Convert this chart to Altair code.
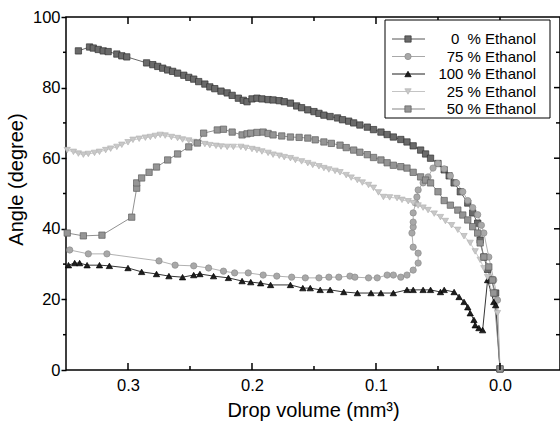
import altair as alt
import pandas as pd

# ---------------- data ----------------
series_keys = ["0%", "75%", "100%", "25%", "50%"]
legend_labels = ["0\u00a0\u00a0% Ethanol", "75 % Ethanol", "100 % Ethanol", "25 % Ethanol", "50 % Ethanol"]
line_colors = ["#555555", "#a8a8a8", "#1e1e1e", "#c4c4c4", "#858585"]
fill_colors = ["#6a6a6a", "#a8a8a8", "#1e1e1e", "#c8c8c8", "#959595"]
stroke_colors = ["#333333", "#8c8c8c", "#000000", "#b4b4b4", "#5e5e5e"]
shapes = ["square", "circle", "triangle-up", "triangle-down", "square"]

vol_0 = [0.340, 0.331, 0.328, 0.324, 0.320, 0.316, 0.309, 0.305, 0.301, 0.285, 0.280, 0.276,
         0.272, 0.268, 0.264, 0.260, 0.255, 0.251, 0.247, 0.243, 0.238, 0.234, 0.230, 0.225,
         0.220, 0.216, 0.211, 0.207, 0.204, 0.200, 0.196, 0.192, 0.187, 0.183, 0.178, 0.174,
         0.169, 0.164, 0.160, 0.155, 0.150, 0.146, 0.142, 0.137, 0.131, 0.127, 0.122, 0.118,
         0.113, 0.107, 0.102, 0.096, 0.091, 0.086, 0.080, 0.075, 0.070, 0.064, 0.060, 0.056,
         0.050, 0.045, 0.041, 0.037, 0.032, 0.026, 0.022, 0.018, 0.016, 0.013, 0.010, 0.007,
         0.0035, 0.0]
ang_0 = [90.4, 91.5, 91.2, 90.8, 90.4, 90.2, 89.5, 89.0, 88.7, 87.0, 86.5, 86.0,
         85.5, 85.0, 84.6, 84.1, 83.5, 82.9, 82.4, 81.7, 81.0, 80.2, 79.7, 79.0,
         78.5, 77.8, 77.0, 76.4, 76.0, 76.8, 77.0, 76.8, 76.6, 76.5, 76.3, 76.0,
         75.6, 74.8, 74.3, 73.7, 73.2, 72.7, 72.2, 71.8, 71.4, 70.9, 70.5, 70.0,
         69.4, 68.8, 68.1, 67.4, 66.7, 66.0, 65.3, 64.6, 63.5, 62.3, 61.2, 60.0,
         58.5, 56.7, 55.0, 53.0, 50.5, 47.3, 44.5, 41.6, 36.8, 32.0, 28.5, 25.5,
         21.8, 0.3]

vol_75 = [0.347, 0.332, 0.317, 0.275, 0.262, 0.247, 0.235, 0.223, 0.214, 0.203, 0.191, 0.180,
          0.168, 0.157, 0.146, 0.138, 0.130, 0.121, 0.117, 0.106, 0.099, 0.091, 0.086, 0.080,
          0.075, 0.070, 0.066, 0.066, 0.070, 0.071, 0.070, 0.070, 0.070, 0.068, 0.067, 0.066,
          0.062, 0.058, 0.054, 0.050, 0.045, 0.040, 0.035, 0.030, 0.026, 0.022, 0.018, 0.015,
          0.013, 0.009, 0.005, 0.002, 0.0]
ang_75 = [34.0, 32.9, 32.9, 30.9, 29.7, 29.5, 28.9, 28.0, 27.5, 27.5, 26.9, 26.6,
          26.3, 26.1, 26.1, 26.3, 26.3, 26.6, 26.3, 26.1, 26.1, 26.9, 26.9, 26.3,
          26.9, 28.3, 30.3, 33.1, 34.8, 38.8, 40.5, 41.9, 44.5, 47.3, 49.0, 51.0,
          53.0, 54.7, 57.2, 58.5, 57.0, 55.0, 53.0, 50.5, 48.0, 46.0, 44.0, 41.0,
          38.8, 32.0, 25.5, 19.8, 0.3]

vol_100 = [0.348, 0.343, 0.339, 0.333, 0.323, 0.315, 0.300, 0.289, 0.277, 0.267, 0.256, 0.247,
           0.242, 0.231, 0.219, 0.208, 0.201, 0.193, 0.185, 0.169, 0.159, 0.153, 0.145, 0.137,
           0.126, 0.115, 0.104, 0.096, 0.086, 0.075, 0.070, 0.062, 0.056, 0.048, 0.045, 0.037,
           0.033, 0.029, 0.026, 0.024, 0.021, 0.020, 0.017, 0.014, 0.010, 0.005, 0.0035, 0.0]
ang_100 = [29.7, 30.3, 30.3, 29.7, 29.7, 29.5, 28.9, 27.8, 27.2, 26.6, 26.3, 26.9,
           27.2, 26.6, 26.1, 25.2, 24.9, 24.6, 24.1, 24.1, 23.2, 23.2, 22.7, 22.7,
           22.1, 21.8, 21.8, 21.8, 21.8, 22.7, 22.7, 22.7, 22.7, 22.1, 22.7, 22.1,
           20.7, 19.3, 17.8, 16.1, 14.2, 12.7, 11.9, 11.3, 25.5, 19.3, 18.4, 0.3]

vol_25 = [0.349, 0.344, 0.340, 0.336, 0.332, 0.327, 0.323, 0.318, 0.314, 0.309, 0.305, 0.300,
          0.296, 0.291, 0.286, 0.282, 0.278, 0.274, 0.270, 0.265, 0.260, 0.256, 0.251, 0.247,
          0.243, 0.238, 0.234, 0.229, 0.225, 0.220, 0.215, 0.209, 0.205, 0.200, 0.196, 0.192,
          0.187, 0.183, 0.178, 0.174, 0.169, 0.165, 0.160, 0.155, 0.151, 0.146, 0.142, 0.138,
          0.133, 0.129, 0.124, 0.120, 0.115, 0.111, 0.106, 0.102, 0.098, 0.094, 0.089, 0.083,
          0.079, 0.074, 0.070, 0.066, 0.062, 0.058, 0.053, 0.048, 0.044, 0.039, 0.034, 0.029,
          0.024, 0.020, 0.016, 0.013, 0.010, 0.006, 0.002, 0.0]
ang_25 = [62.3, 61.8, 61.3, 61.0, 61.2, 61.5, 61.8, 62.3, 62.7, 63.2, 63.8, 64.5,
          65.2, 65.5, 65.8, 66.0, 66.3, 66.6, 66.4, 66.0, 65.7, 65.3, 65.0, 64.6,
          64.3, 64.0, 63.7, 63.5, 63.3, 63.2, 63.2, 63.2, 62.9, 62.6, 62.3, 61.9,
          61.5, 61.0, 60.7, 60.3, 60.0, 59.5, 59.1, 58.6, 58.1, 57.7, 57.2, 56.8,
          56.4, 56.0, 55.2, 54.5, 53.8, 53.1, 52.4, 51.6, 50.3, 49.0, 48.9, 48.7,
          48.2, 47.8, 47.3, 46.6, 46.0, 45.3, 44.3, 43.3, 42.2, 41.0, 39.7, 37.9,
          36.0, 33.6, 31.2, 28.8, 26.3, 21.8, 16.1, 0.3]

vol_50 = [0.349, 0.336, 0.321, 0.297, 0.293, 0.293, 0.289, 0.283, 0.277, 0.268, 0.260, 0.251,
          0.244, 0.239, 0.228, 0.223, 0.216, 0.208, 0.204, 0.201, 0.196, 0.191, 0.187, 0.183,
          0.176, 0.169, 0.162, 0.155, 0.149, 0.142, 0.136, 0.129, 0.124, 0.118, 0.113, 0.107,
          0.102, 0.096, 0.091, 0.086, 0.080, 0.075, 0.070, 0.064, 0.060, 0.056, 0.050, 0.045,
          0.040, 0.034, 0.030, 0.026, 0.022, 0.018, 0.016, 0.013, 0.009, 0.006, 0.005, 0.0]
ang_50 = [38.8, 38.0, 38.2, 43.3, 51.5, 53.0, 54.4, 56.0, 57.5, 59.5, 61.2, 63.2,
          64.3, 67.1, 68.0, 68.2, 67.4, 66.6, 66.9, 67.1, 67.3, 67.4, 67.0, 66.6,
          66.3, 66.0, 65.9, 65.7, 65.2, 64.6, 64.2, 63.7, 63.0, 62.3, 61.7, 61.0,
          60.2, 59.5, 58.7, 58.0, 57.6, 57.2, 56.0, 54.7, 53.8, 53.0, 50.5, 48.0,
          46.7, 45.3, 43.9, 42.5, 40.6, 38.8, 36.0, 32.0, 29.2, 25.5, 21.8, 0.3]

x_tick_labels = [0.3, 0.2, 0.1, 0.0]
x_minor_ticks = [0.25, 0.15, 0.05]
y_tick_labels = [0, 20, 40, 60, 80, 100]
y_right_major = [20, 40, 60, 80]
y_minor_ticks = [10, 30, 50, 70, 90]

# ---------------- tables ----------------
rows = []
for key, vols, angs in [("0%", vol_0, ang_0), ("75%", vol_75, ang_75), ("100%", vol_100, ang_100),
                        ("25%", vol_25, ang_25), ("50%", vol_50, ang_50)]:
    for i, (v, a) in enumerate(zip(vols, angs)):
        rows.append({"series": key, "vol": v, "angle": a, "idx": i})
df = pd.DataFrame(rows)

legend_df = pd.DataFrame({"series": series_keys, "label": legend_labels})

W, H = 494, 353
FONT = "Liberation Sans"

xscale = alt.Scale(domain=[-0.0484, 0.35], reverse=True, nice=False, zero=False)
yscale = alt.Scale(domain=[0, 100], nice=False, zero=False)

xaxis = alt.Axis(values=x_tick_labels, format=".1f", ticks=False, tickSize=0, domain=False, grid=False,
                 labelFontSize=16.5, labelPadding=7, labelFont=FONT, labelColor="black",
                 title="Drop volume (mm³)", titleFontSize=20, titleFont=FONT, titleFontWeight="normal",
                 titleColor="black", titlePadding=7, labelFlush=False)
yaxis = alt.Axis(values=y_tick_labels, format="d", ticks=True, tickSize=5, tickWidth=1.5, tickColor="black",
                 domain=False, grid=False, labelFontSize=16.5, labelPadding=1, labelFont=FONT,
                 labelColor="black", title="Angle (degree)", titleFontSize=20, titleFont=FONT,
                 titleFontWeight="normal", titleColor="black", titlePadding=6, titleY=162,
                 labelFlush=False)

X = alt.X("vol:Q", scale=xscale, axis=xaxis)
Y = alt.Y("angle:Q", scale=yscale, axis=yaxis)

color_enc = alt.Color("series:N", scale=alt.Scale(domain=series_keys, range=line_colors), legend=None)
fill_enc = alt.Fill("series:N", scale=alt.Scale(domain=series_keys, range=fill_colors), legend=None)
stroke_enc = alt.Stroke("series:N", scale=alt.Scale(domain=series_keys, range=stroke_colors), legend=None)
shape_enc = alt.Shape("series:N", scale=alt.Scale(domain=series_keys, range=shapes), legend=None)

base = alt.Chart(df)
lines = base.mark_line(strokeWidth=0.9).encode(x=X, y=Y, color=color_enc, detail="series:N", order="idx:Q")
points = base.mark_point(filled=True, size=40, strokeWidth=0.7, opacity=1).encode(
    x=X, y=Y, fill=fill_enc, stroke=stroke_enc, shape=shape_enc)

# tick marks (inward on bottom/top/right, minor outward on left)
def xrule(vals, y0, y1):
    return alt.Chart(pd.DataFrame({"vol": vals})).mark_rule(color="black", strokeWidth=1.5).encode(
        x=X, y=alt.value(y0), y2=alt.value(y1))

def yrule(vals, x0, x1):
    return alt.Chart(pd.DataFrame({"angle": vals})).mark_rule(color="black", strokeWidth=1.5).encode(
        y=Y, x=alt.value(x0), x2=alt.value(x1))

ticks = [
    xrule(x_tick_labels, H, H - 7), xrule(x_minor_ticks, H, H - 4),
    xrule(x_tick_labels, 0, 7), xrule(x_minor_ticks, 0, 4),
    yrule(y_minor_ticks, -3, 0),
    yrule(y_right_major, W - 6, W), yrule(y_minor_ticks, W - 4, W),
]

main = alt.layer(lines, points, *ticks)

# legend drawn as marks
LY = alt.Y("series:N", scale=alt.Scale(type="point", domain=series_keys, range=[22, 92], padding=0), axis=None)
box = alt.Chart(pd.DataFrame({"b": [0]})).mark_rect(fill="white", stroke="black", strokeWidth=1).encode(
    x=alt.value(319), x2=alt.value(484), y=alt.value(3), y2=alt.value(101))
lseg = alt.Chart(legend_df).mark_rule(strokeWidth=1).encode(
    x=alt.value(326), x2=alt.value(359), y=LY, color=color_enc)
lpt = alt.Chart(legend_df).mark_point(filled=True, size=40, strokeWidth=0.7, opacity=1).encode(
    x=alt.value(342), y=LY, fill=fill_enc, stroke=stroke_enc, shape=shape_enc)
ltxt = alt.Chart(legend_df).mark_text(align="right", baseline="middle", fontSize=15, font=FONT,
                                      color="black").encode(x=alt.value(470), y=LY, text="label:N")
legend = alt.layer(box, lseg, lpt, ltxt)

chart = alt.layer(main, legend).resolve_scale(y="independent").properties(
    width=W, height=H,
    padding={"left": 66, "top": 17, "right": 0, "bottom": 54},
    autosize=alt.AutoSizeParams(type="none"),
    background="white",
).configure_view(stroke="black", strokeWidth=1.5)

chart.save("out.html", embed_options={"renderer": "svg", "actions": False})
